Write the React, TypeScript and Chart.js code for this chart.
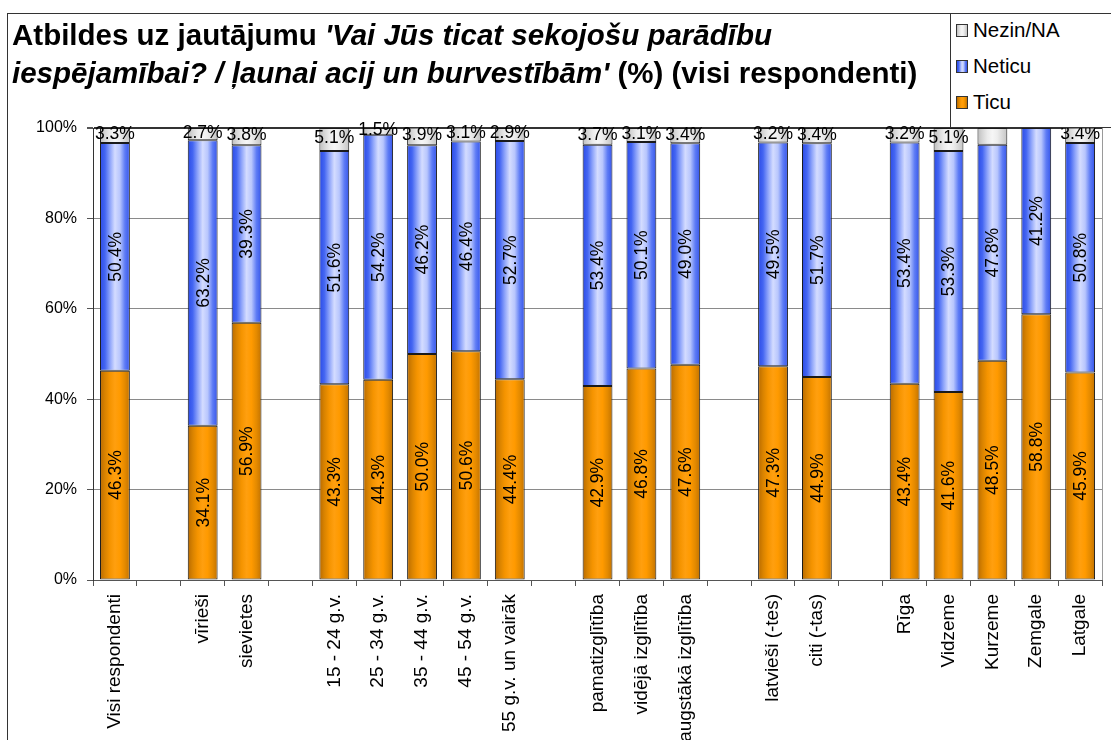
import React, { useEffect, useRef } from 'react';
import { Chart, registerables } from 'chart.js';

Chart.register(...registerables);

const categories = [
  'Visi respondenti', '', 'vīrieši', 'sievietes', '',
  '15 - 24 g.v.', '25 - 34 g.v.', '35 - 44 g.v.', '45 - 54 g.v.', '55 g.v. un vairāk', '',
  'pamatizglītība', 'vidējā izglītība', 'augstākā izglītība', '',
  'latvieši (-tes)', 'citi (-tas)', '',
  'Rīga', 'Vidzeme', 'Kurzeme', 'Zemgale', 'Latgale',
];
const ticu = [46.3, null, 34.1, 56.9, null, 43.3, 44.3, 50.0, 50.6, 44.4, null, 42.9, 46.8, 47.6, null, 47.3, 44.9, null, 43.4, 41.6, 48.5, 58.8, 45.9];
const neticu = [50.4, null, 63.2, 39.3, null, 51.6, 54.2, 46.2, 46.4, 52.7, null, 53.4, 50.1, 49.0, null, 49.5, 51.7, null, 53.4, 53.3, 47.8, 41.2, 50.8];
const nezin = [3.3, null, 2.7, 3.8, null, 5.1, 1.5, 3.9, 3.1, 2.9, null, 3.7, 3.1, 3.4, null, 3.2, 3.4, null, 3.2, 5.1, 3.7, 0, 3.4];
const nezinUnlabeled = ['Kurzeme'];
const seriesNames = ['Ticu', 'Neticu', 'Nezin/NA'];
const yTickValues = [0, 20, 40, 60, 80, 100];

const BAR_PCT = 0.68;
const FONT = '"Liberation Sans", Arial, sans-serif';

const orangeStops = ['#b86a00', '#d98300', '#f59400', '#ff9f0f', '#ff9a00', '#e48a00', '#c27200'];
const blueStops = ['#2a4ae6', '#4466f2', '#8ea4fa', '#d4dcff', '#b8c6fd', '#5e7cf5', '#3454ea'];
const grayStops = ['#bdbdbd', '#d6d6d6', '#ebebeb', '#f6f6f6', '#ededed', '#d8d8d8', '#c4c4c4'];

const gradFill = (stops: string[]) => (c: any) => {
  const chart = c.chart;
  const area = chart.chartArea;
  const xs = chart.scales && chart.scales.x;
  if (!area || !xs) return stops[3];
  const x = xs.getPixelForValue(c.dataIndex);
  const w = ((area.right - area.left) / categories.length) * BAR_PCT;
  const g = chart.ctx.createLinearGradient(x - w / 2, 0, x + w / 2, 0);
  stops.forEach((s, i) => g.addColorStop(i / (stops.length - 1), s));
  return g;
};

const cssGrad = (stops: string[]) => `linear-gradient(to right, ${stops.join(', ')})`;

const labelPlugin = {
  id: 'segLabels',
  afterDatasetsDraw(chart: any) {
    const ctx = chart.ctx;
    chart.data.datasets.forEach((ds: any, di: number) => {
      const meta = chart.getDatasetMeta(di);
      meta.data.forEach((el: any, i: number) => {
        const v = ds.data[i];
        if (v == null || v === 0) return;
        if (di === 2 && nezinUnlabeled.includes(categories[i])) return;
        const { x, y, base } = el.getProps(['x', 'y', 'base'], true);
        const cy = (y + base) / 2;
        const txt = v.toFixed(1) + '%';
        ctx.save();
        ctx.fillStyle = '#000';
        ctx.font = `17.5px ${FONT}`;
        ctx.textAlign = 'center';
        ctx.textBaseline = 'middle';
        if (di === 2) {
          ctx.fillText(txt, x, cy - 1);
        } else {
          ctx.translate(x, cy);
          ctx.rotate(-Math.PI / 2);
          ctx.fillText(txt, 0, 1);
        }
        ctx.restore();
      });
    });
  },
};

const borderPlugin = {
  id: 'rightBorder',
  afterDraw(chart: any) {
    const { ctx, chartArea } = chart;
    ctx.save();
    ctx.strokeStyle = '#9a9a9a';
    ctx.lineWidth = 1;
    ctx.beginPath();
    ctx.moveTo(Math.round(chartArea.right) + 0.5, chartArea.top);
    ctx.lineTo(Math.round(chartArea.right) + 0.5, chartArea.bottom);
    ctx.stroke();
    ctx.restore();
  },
};

export default function App() {
  const ref = useRef<HTMLCanvasElement | null>(null);

  useEffect(() => {
    if (!ref.current) return;
    const mk = (label: string, data: any[], stops: string[]) => ({
      label,
      data,
      backgroundColor: gradFill(stops),
      borderColor: '#1a1a1a',
      borderWidth: 1,
      borderSkipped: false,
      barPercentage: BAR_PCT,
      categoryPercentage: 1,
    });
    const chart = new Chart(ref.current, {
      type: 'bar',
      data: {
        labels: categories,
        datasets: [
          mk(seriesNames[0], ticu, orangeStops),
          mk(seriesNames[1], neticu, blueStops),
          mk(seriesNames[2], nezin, grayStops),
        ],
      },
      options: {
        responsive: false,
        animation: false,
        events: [],
        layout: { padding: { top: 128, right: 3, left: 0, bottom: 0 } },
        plugins: { legend: { display: false }, title: { display: false }, tooltip: { enabled: false } },
        scales: {
          x: {
            stacked: true,
            afterFit: (s: any) => { s.height = 160; },
            grid: { offset: true, drawOnChartArea: false, drawTicks: true, tickLength: 6, color: '#555' },
            border: { color: '#555', width: 1 },
            ticks: {
              autoSkip: false,
              minRotation: 90,
              maxRotation: 90,
              padding: 8,
              color: '#000',
              font: { family: FONT, size: 19 },
            },
          },
          y: {
            stacked: true,
            min: 0,
            max: 100,
            afterFit: (s: any) => { s.width = 93; },
            afterBuildTicks: (s: any) => { s.ticks = yTickValues.map((v) => ({ value: v })); },
            grid: {
              color: (c: any) => (c.tick && c.tick.value === 100 ? '#333' : '#8a8a8a'),
              lineWidth: (c: any) => (c.tick && c.tick.value === 100 ? 2 : 1),
              tickLength: 6,
              tickColor: '#555',
            },
            border: { color: '#333', width: 1 },
            ticks: {
              padding: 10,
              color: '#000',
              font: { family: FONT, size: 16 },
              callback: (v: any) => v + '%',
            },
          },
        },
      },
      plugins: [labelPlugin, borderPlugin],
    });
    return () => chart.destroy();
  }, []);

  const legendItems = [
    { name: seriesNames[2], stops: grayStops, top: 29 },
    { name: seriesNames[1], stops: blueStops, top: 65 },
    { name: seriesNames[0], stops: orangeStops, top: 101 },
  ];

  return (
    <div style={{ position: 'fixed', left: 0, top: 0, width: 1111, height: 740, background: '#fff', overflow: 'hidden', fontFamily: FONT }}>
      <canvas ref={ref} width={1111} height={740} style={{ position: 'absolute', left: 0, top: 0 }} />
      {/* outer frame */}
      <div style={{ position: 'absolute', left: 7, top: 13, width: 1104, height: 0, borderTop: '1px solid #333' }} />
      <div style={{ position: 'absolute', left: 7, top: 13, width: 0, height: 727, borderLeft: '1px solid #333' }} />
      {/* title */}
      <div style={{ position: 'absolute', left: 12, top: 16, width: 940, fontSize: 29.5, lineHeight: '38px', fontWeight: 'bold', color: '#000', whiteSpace: 'nowrap' }}>
        <div>Atbildes uz jautājumu <i>'Vai Jūs ticat sekojošu parādību</i></div>
        <div><i>iespējamībai? / ļaunai acij un burvestībām'</i> (%) (visi respondenti)</div>
      </div>
      {/* legend */}
      <div style={{ position: 'absolute', left: 950, top: 13, width: 161, height: 113, background: '#fff', borderLeft: '1px solid #333', borderBottom: '1px solid #333', borderTop: '1px solid #333' }}>
        {legendItems.map((it) => (
          <div key={it.name} style={{ position: 'absolute', left: 5, top: it.top - 13 - 12, height: 24, display: 'flex', alignItems: 'center' }}>
            <div style={{ width: 10, height: 11, border: '1px solid #333', background: cssGrad(it.stops) }} />
            <span style={{ marginLeft: 5, fontSize: 20.5, color: '#000' }}>{it.name}</span>
          </div>
        ))}
      </div>
    </div>
  );
}
